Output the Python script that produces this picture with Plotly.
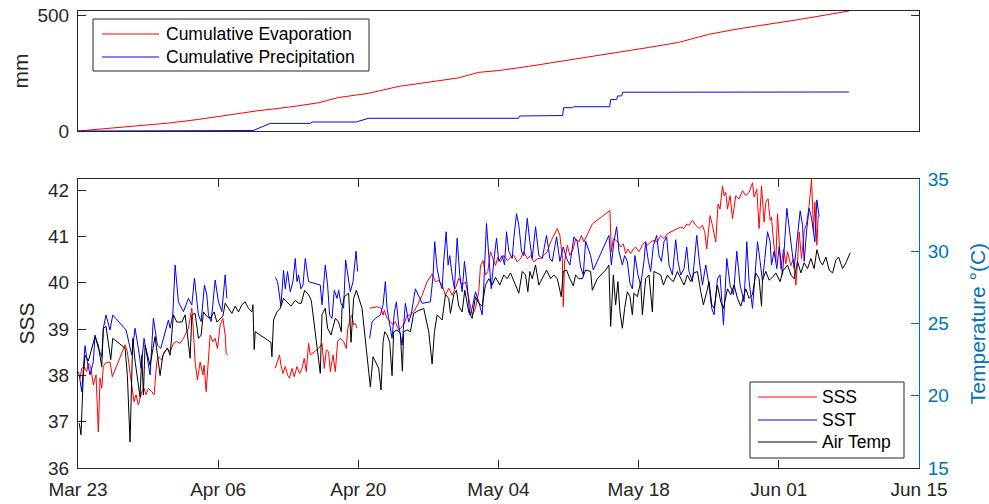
import pandas as pd
import plotly.graph_objects as go

START = pd.Timestamp("2015-03-23")

# ---------------- data (day offsets from Mar 23) ----------------
EVAP_DAY = [0, 3, 6, 9, 12, 15, 18, 21, 24, 26, 29, 32, 35, 38, 40, 42, 45, 48, 51, 54, 57, 60, 63, 66, 69, 72, 75, 77]
EVAP_MM = [0, 11, 20, 34, 50, 70, 88, 103, 122, 145, 163, 193, 210, 230, 254, 262, 280, 300, 322, 342, 362, 384, 419, 443, 462, 483, 505, 520]

PREC_DAY = [0, 12.5, 12.6, 17.5, 19.2, 23.2, 23.4, 27.8, 29.0, 44.0, 44.1, 45.7, 45.8, 48.4, 48.5, 49.4, 49.5,
            53.1, 53.2, 53.8, 53.9, 54.3, 54.4, 68.1, 68.2, 77.0]
PREC_MM = [0, 0, 2, 2, 33, 33, 39, 39, 55, 55, 65, 65, 67, 67, 101, 101, 105, 105, 136, 136, 152, 152, 168, 168, 169, 169]

SSS_DAY = [0.03, 0.2, 0.37, 0.6, 0.87, 1.03, 1.27, 1.53, 1.8, 2.03, 2.2, 2.37, 2.53, 2.7, 3.2, 3.43, 4.7, 4.93, 5.27,
           5.6, 5.8, 6.03, 6.37, 6.6, 6.8, 7.03, 7.37, 7.6, 7.87, 8.03, 8.37, 8.6, 8.93, 9.2, 9.53, 9.87, 10.2, 10.53,
           11.03, 11.37, 11.53, 11.7, 11.93, 12.2, 12.47, 12.6, 12.8, 13.03, 13.2, 13.47, 13.7, 13.93, 14.2, 14.47,
           14.7, 14.8, 14.97, None,
           19.7, 19.93, 20.13, 20.27, 20.47, 20.7, 20.93, 21.13, 21.37, 21.6, 21.87, 22.13, 22.37, 22.6, 22.8, 23.03,
           23.2, 24.03, 24.37, 24.6, 24.8, 25.03, 25.2, 25.47, 25.7, 25.93, 26.2, 26.53, 26.8, 26.93, 27.2, 27.37,
           27.53, 27.7, 27.87, None,
           29.13, 29.37, 29.87, 30.27, 30.47, 30.6, 30.87, 31.2, 31.47, 31.7, 32.03, 32.37, 32.6, 32.87, 33.2, 33.53,
           33.87, 34.37, 34.87, 35.37, 35.7, 36.03, 36.37, 36.7, 37.03, 37.37, 37.7, 38.03, 38.37, 38.7, 39.03, 39.37,
           39.7, 40.03, 40.2, 40.47, 40.7, 40.93, 41.2, 41.47, 41.7, 41.93, 42.2, 42.53, 42.87, 43.2, 43.53, 43.87,
           44.2, 44.53, 44.87, 45.2, 45.53, 45.87, 46.2, 46.53, 46.87, 47.2, 47.53, 47.87, 48.13, 48.37, 48.47, 48.6,
           48.87, 49.13, 49.47, 49.7, 50.03, 50.27, 50.53, 50.7, 51.0, 51.37, 53.13, 53.27, 53.47, 53.7, 53.93, 54.2,
           54.47, 54.7, 54.93, 55.2, 55.47, 55.7, 56.03, 56.37, 56.63, 56.87, 57.2, 57.53, 57.87, 58.2, 58.53, 58.87,
           59.2, 59.53, 59.87, 60.2, 60.53, 60.8, 61.03, 61.37, 61.7, 62.03, 62.37, 62.6, 62.8, 63.13, 63.37, 63.7,
           63.93, 64.13, 64.37, 64.53, 64.7, 64.87, 65.13, 65.37, 65.7, 66.03, 66.37, 66.7, 67.03, 67.37, 67.53, 67.8,
           68.03, 68.27, 68.53, 68.7, 68.93, 69.13, 69.27, 69.47, 69.7, 69.87, 70.03, 70.2, 70.47, 70.7, 70.87, 71.2,
           71.47, 71.7, 71.87, 72.03, 72.27, 72.53, 72.8, 73.03, 73.27, 73.47, 73.6, 73.8, 73.93]
SSS_VAL = [38.08, 37.94, 38.15, 38.19, 38.08, 38.26, 38.19, 37.79, 38.01, 36.78, 37.94, 37.72, 38.19, 38.26, 38.29,
           37.97, 38.66, 38.51, 37.94, 37.43, 37.58, 37.36, 37.65, 37.72, 37.58, 37.72, 37.65, 37.58, 38.29, 38.40,
           38.33, 38.51, 38.58, 38.51, 38.69, 38.73, 38.69, 38.80, 39.02, 39.45, 38.94, 38.29, 37.90, 38.29, 38.01,
           38.22, 37.65, 38.44, 38.87, 38.73, 38.80, 38.58, 39.09, 39.23, 38.87, 38.47, 38.44, None,
           38.15, 38.29, 38.44, 38.22, 38.04, 38.19, 38.01, 37.94, 38.15, 37.97, 38.19, 38.04, 38.15, 38.37, 38.08,
           38.69, 38.44, 38.58, 38.69, 38.15, 38.55, 38.51, 38.08, 38.44, 38.08, 38.73, 38.80, 38.73, 38.58, 38.98,
           39.23, 39.30, 39.09, 39.12, 39.02, None,
           39.45, 39.46, 39.48, 39.45, 39.30, 39.41, 39.23, 39.16, 39.09, 39.16, 38.98, 39.05, 39.12, 39.30, 39.30,
           39.38, 39.50, 39.73, 40.02, 40.19, 40.02, 40.05, 39.95, 39.73, 39.88, 39.73, 39.88, 40.10, 39.95, 40.02,
           39.66, 39.30, 39.45, 39.81, 40.37, 40.48, 40.17, 40.24, 40.67, 40.52, 40.37, 40.55, 40.45, 40.59, 40.48,
           40.55, 40.59, 40.45, 40.52, 40.67, 40.52, 40.59, 40.45, 40.52, 40.52, 40.59, 40.67, 40.88, 41.02, 41.17,
           41.02, 40.59, 39.48, 40.45, 40.81, 40.59, 40.73, 40.95, 40.88, 41.02, 40.88, 40.95, 41.10, 41.27, 41.56,
           40.67, 40.95, 40.92, 40.88, 40.77, 40.84, 40.63, 40.73, 40.63, 40.73, 40.77, 40.67, 40.81, 40.88, 40.81,
           40.88, 40.92, 40.88, 41.02, 40.95, 41.06, 41.10, 41.13, 41.17, 41.20, 41.17, 41.27, 41.24, 41.35, 41.24,
           41.17, 41.24, 41.10, 40.73, 41.45, 41.24, 40.88, 41.70, 41.59, 42.09, 41.88, 41.95, 41.59, 41.88, 41.38,
           41.88, 41.81, 41.99, 41.88, 41.95, 42.16, 41.85, 42.02, 41.17, 42.09, 41.31, 41.74, 41.81, 41.35, 41.42,
           40.88, 40.45, 41.49, 40.88, 40.30, 40.73, 40.41, 40.67, 40.37, 40.52, 39.95, 40.45, 41.10, 40.52, 41.10,
           41.31, 41.67, 42.24, 41.10, 41.74, 40.81, 41.45]

SST_DAY = [0.13, 0.37, 0.7, 0.93, 1.2, 1.53, 1.7, 2.03, 2.37, 2.53, 2.8, 3.2, 3.47, 4.8, 5.37, 5.7, 6.03, 6.3, 6.6, 7.2,
           7.53, 7.93, 8.27, 8.53, 9.03, 9.2, 9.47, 9.7, 10.03, 10.53, 11.03, 11.37, 11.63, 12.03, 12.3, 12.63, 12.87,
           13.03, 13.3, 13.7, 14.03, 14.37, 14.7, 14.87, None,
           19.7, 19.93, 20.27, 20.53, 20.7, 20.93, 21.2, 21.47, 21.7, 21.87, 22.03, 22.27, 22.47, 22.7, 23.03, 24.2,
           24.37, 24.7, 24.93, 25.13, 25.37, 25.6, 25.87, 26.03, 26.27, 26.53, 26.73, 26.93, 27.2, 27.47, 27.77, 27.93,
           None,
           29.13, 29.37, 29.7, 30.2, 30.47, 30.7, 30.87, 31.13, 31.37, 31.6, 31.8, 32.03, 32.37, 32.7, 33.03, 33.27,
           33.7, 34.03, 34.37, 35.2, 35.47, 35.63, 35.87, 36.13, 36.37, 36.53, 36.77, 36.97, 37.13, 37.37, 37.6, 37.87,
           38.13, 38.37, 38.6, 38.87, 39.13, 39.37, 39.7, 40.03, 40.37, 40.53, 40.8, 41.03, 41.27, 41.53, 41.8, 42.03,
           42.37, 42.6, 42.8, 43.03, 43.37, 43.53, 43.8, 44.03, 44.3, 44.53, 44.87, 45.13, 45.37, 45.7, 46.03, 46.37,
           46.8, 47.13, 47.37, 47.8, 48.13, 48.47, 48.8, 49.13, 49.53, 49.87, 50.2, 50.47, 50.7, 51.2, 51.47, 53.03,
           53.27, 53.53, 53.8, 54.03, 54.37, 54.6, 54.87, 55.13, 55.37, 55.63, 55.93, 56.2, 56.53, 56.7, 56.97, 57.2,
           57.47, 57.8, 58.03, 58.27, 58.53, 58.8, 59.03, 59.37, 59.7, 59.93, 60.2, 60.53, 60.8, 61.03, 61.37, 61.8,
           62.03, 62.37, 62.7, 62.97, 63.3, 63.53, 63.87, 64.13, 64.47, 64.8, 65.13, 65.47, 65.8, 66.13, 66.53, 66.8,
           67.03, 67.37, 67.6, 67.87, 68.13, 68.37, 68.6, 68.87, 69.13, 69.27, 69.53, 69.8, 70.03, 70.37, 70.8, 71.03,
           71.27, 71.53, 71.87, 72.13, 72.37, 72.53, 72.8, 73.03, 73.27, 73.47, 73.6, 73.8, 74.03]
SST_VAL = [21.44, 20.28, 23.47, 22.36, 21.44, 22.36, 24.20, 23.28, 22.70, 24.67, 25.59, 24.55, 25.59, 24.55, 22.82,
           24.67, 23.28, 21.90, 23.97, 21.44, 25.36, 23.50, 23.28, 23.97, 25.24, 24.67, 25.59, 29.05, 26.50, 25.82,
           26.74, 26.28, 28.13, 25.59, 25.13, 27.66, 26.97, 25.59, 25.13, 28.01, 26.50, 25.82, 28.36, 26.74, None,
           28.20, 27.90, 26.20, 28.70, 27.40, 28.60, 27.20, 27.90, 29.50, 27.90, 28.36, 27.40, 27.66, 29.50, 27.90,
           27.66, 26.30, 29.05, 27.66, 25.60, 25.36, 27.30, 26.74, 27.30, 26.40, 26.05, 29.40, 28.36, 27.20, 27.90,
           30.00, 28.60, None,
           23.97, 25.10, 25.36, 25.60, 26.30, 27.90, 26.05, 24.90, 23.97, 25.80, 26.50, 24.90, 23.50, 26.40, 25.10,
           25.60, 27.40, 26.90, 26.40, 26.50, 28.36, 30.66, 28.80, 27.90, 27.40, 29.30, 31.35, 29.05, 29.70, 28.36,
           27.40, 30.90, 28.36, 27.20, 29.30, 27.66, 25.60, 26.05, 27.20, 26.50, 25.60, 27.66, 31.93, 29.70, 27.40,
           29.30, 30.90, 29.30, 29.70, 29.05, 31.35, 30.00, 29.50, 30.90, 32.60, 31.80, 30.00, 29.70, 32.28, 30.66,
           29.50, 31.70, 29.70, 29.50, 31.10, 29.50, 29.30, 31.00, 29.30, 30.30, 29.50, 29.05, 31.00, 30.66, 28.90,
           28.36, 30.70, 29.70, 28.70, 31.10, 29.05, 30.66, 31.70, 30.00, 29.05, 29.70, 29.30, 27.80, 27.40, 29.70,
           28.36, 27.66, 29.30, 30.66, 29.30, 28.60, 30.40, 31.10, 29.70, 29.30, 30.66, 31.00, 29.05, 28.36, 30.80,
           29.30, 28.36, 28.80, 30.30, 28.60, 27.90, 31.10, 29.50, 27.66, 29.05, 27.90, 26.05, 25.60, 28.10, 28.36,
           24.90, 29.50, 27.66, 27.00, 30.00, 27.66, 26.50, 30.66, 27.90, 26.05, 28.36, 30.66, 29.30, 27.90, 29.50,
           31.35, 30.66, 29.05, 30.00, 28.80, 30.30, 28.36, 32.97, 31.60, 30.00, 28.80, 31.10, 32.80, 31.80, 29.30,
           31.60, 32.97, 32.28, 31.10, 30.66, 33.55, 32.40]

AIR_DAY = [0.13, 0.3, 0.53, 0.7, 1.03, 1.37, 1.7, 2.03, 2.37, 2.53, 2.8, 3.27, 3.47, 4.7, 4.93, 5.2, 5.47, 5.7, 5.93,
           6.2, 6.37, 6.53, 6.7, 7.2, 7.7, 8.2, 8.47, 8.93, 9.2, 9.53, 9.87, 10.37, 10.7, 11.2, 11.37, 11.7, 12.03,
           12.3, 12.53, 12.87, 13.2, 13.6, 13.87, 14.2, 14.47, 14.7, 15.03, 15.37, 15.7, 16.03, 16.37, 16.7, 17.03,
           17.37, 17.47, 17.6, 17.7, 19.27, 19.37, 19.53, 19.87, 20.2, 20.53, 20.87, 21.27, 21.7, 22.03, 22.3, 22.63,
           23.03, 23.3, 24.2, 24.37, 24.7, 24.93, 25.27, 25.7, 26.03, 26.3, 26.37, 26.6, 27.03, 27.27, 27.53, 27.8,
           28.37, 29.2, 29.47, 30.03, 30.27, 30.47, 30.63, 30.87, 31.13, 31.37, 31.53, 31.87, 32.2, 32.4, 32.53, 32.87,
           33.2, 33.53, 34.03, 34.53, 35.03, 35.37, 35.6, 35.87, 36.37, 36.7, 37.03, 37.2, 37.53, 37.8, 38.03, 38.37,
           38.63, 39.03, 39.37, 39.7, 40.03, 40.37, 40.7, 41.03, 41.37, 41.7, 42.13, 42.53, 42.87, 43.2, 43.7, 44.03,
           44.37, 44.7, 44.93, 45.13, 45.37, 45.7, 46.03, 46.37, 46.8, 47.2, 47.53, 47.87, 48.27, 48.47, 48.8, 49.13,
           49.47, 49.7, 50.03, 50.37, 50.7, 51.2, 51.37, 51.87, 52.2, 52.7, 53.03, 53.2, 53.47, 53.7, 53.93, 54.13,
           54.37, 54.6, 54.87, 55.13, 55.37, 55.53, 55.87, 56.2, 56.37, 56.7, 57.03, 57.37, 57.53, 57.87, 58.2, 58.47,
           58.87, 59.13, 59.47, 59.87, 60.2, 60.53, 60.87, 61.2, 61.53, 61.87, 62.2, 62.47, 62.8, 63.03, 63.3, 63.53,
           63.87, 64.2, 64.47, 64.87, 65.2, 65.53, 65.87, 66.2, 66.7, 67.03, 67.37, 67.7, 68.03, 68.27, 68.37, 68.7,
           69.03, 69.37, 69.7, 70.13, 70.37, 70.87, 71.2, 71.53, 71.87, 72.2, 72.53, 72.87, 73.2, 73.53, 73.8, 74.13,
           74.37, 74.7, 75.03, 75.37, 75.7, 75.97, 76.37, 76.7, 77.13]
AIR_VAL = [18.1, 17.3, 21.4, 22.8, 22.4, 23.3, 24.1, 23.5, 22.0, 24.67, 24.8, 22.5, 23.97, 23.3, 21.4, 16.8, 23.97,
           22.4, 21.4, 19.9, 22.8, 20.05, 23.5, 22.1, 24.1, 21.4, 22.8, 23.3, 22.8, 25.6, 25.1, 25.1, 25.6, 22.6, 25.6,
           25.7, 23.97, 24.2, 25.8, 25.5, 25.36, 25.8, 25.1, 25.36, 25.5, 26.4, 26.05, 25.7, 26.2, 25.8, 26.3, 26.5,
           26.05, 25.8, 26.3, 23.2, 24.43, 23.7, 22.7, 25.24, 25.8, 26.05, 26.74, 26.5, 26.2, 26.6, 26.4, 26.4, 27.3,
           27.0, 26.6, 21.55, 25.6, 26.05, 24.67, 24.2, 25.36, 25.1, 24.43, 26.05, 26.85, 27.1, 23.7, 26.74, 27.3,
           26.05, 20.6, 22.7, 21.9, 20.4, 23.7, 24.43, 24.2, 23.7, 21.4, 24.43, 24.55, 24.3, 21.7, 24.43, 24.55, 24.43,
           25.7, 25.9, 26.05, 24.43, 22.2, 24.43, 25.6, 25.24, 27.0, 26.74, 25.7, 27.0, 27.3, 26.2, 25.8, 27.3, 25.8,
           25.36, 26.85, 26.4, 26.2, 27.66, 28.1, 27.66, 28.2, 27.66, 28.36, 28.1, 28.5, 27.66, 27.1, 28.6, 28.36,
           27.2, 28.6, 28.1, 29.05, 27.66, 28.1, 28.7, 28.1, 28.36, 28.1, 26.85, 28.6, 28.7, 28.1, 27.6, 28.36, 28.1,
           28.1, 28.7, 28.6, 27.3, 28.1, 28.36, 28.7, 29.05, 24.8, 28.36, 26.3, 27.9, 25.8, 24.67, 26.05, 27.2, 26.85,
           25.6, 27.1, 26.85, 27.9, 25.6, 28.1, 28.36, 25.8, 28.6, 28.5, 28.36, 27.66, 28.36, 28.1, 27.9, 28.6, 28.1,
           27.66, 28.36, 27.9, 28.5, 28.6, 27.2, 26.3, 27.2, 27.9, 26.3, 26.05, 27.66, 26.5, 26.05, 27.4, 27.0, 27.66,
           26.74, 26.2, 27.4, 26.74, 27.0, 28.5, 28.1, 26.2, 28.0, 28.6, 28.0, 28.2, 28.5, 27.9, 28.6, 29.05, 28.36,
           28.1, 29.3, 28.5, 29.2, 28.8, 29.5, 28.8, 30.1, 29.3, 29.05, 29.6, 28.7, 28.5, 29.4, 29.6, 28.8, 29.2, 29.9]

TICK_DAYS = [0, 14, 28, 42, 56, 70, 84]
TICK_LABELS = ["Mar 23", "Apr 06", "Apr 20", "May 04", "May 18", "Jun 01", "Jun 15"]

TOP_LEGEND = [("Cumulative Evaporation", "red"), ("Cumulative Precipitation", "blue")]
BOTTOM_LEGEND = [("SSS", "red"), ("SST", "blue"), ("Air Temp", "black")]


def dates(days):
    return [None if d is None else START + pd.Timedelta(days=d) for d in days]


AX = "#262626"
BLUEAX = "#0072BD"
FONT = "Liberation Sans, Arial, sans-serif"

fig = go.Figure()
fig.add_trace(go.Scatter(x=dates(EVAP_DAY), y=EVAP_MM, mode="lines", name=TOP_LEGEND[0][0],
                         line=dict(color=TOP_LEGEND[0][1], width=1), xaxis="x", yaxis="y"))
fig.add_trace(go.Scatter(x=dates(PREC_DAY), y=PREC_MM, mode="lines", name=TOP_LEGEND[1][0],
                         line=dict(color=TOP_LEGEND[1][1], width=1), xaxis="x", yaxis="y"))
fig.add_trace(go.Scatter(x=dates(SSS_DAY), y=SSS_VAL, mode="lines", name=BOTTOM_LEGEND[0][0], connectgaps=False,
                         line=dict(color=BOTTOM_LEGEND[0][1], width=1), xaxis="x2", yaxis="y2"))
fig.add_trace(go.Scatter(x=dates(SST_DAY), y=SST_VAL, mode="lines", name=BOTTOM_LEGEND[1][0], connectgaps=False,
                         line=dict(color=BOTTOM_LEGEND[1][1], width=1), xaxis="x2", yaxis="y3"))
fig.add_trace(go.Scatter(x=dates(AIR_DAY), y=AIR_VAL, mode="lines", name=BOTTOM_LEGEND[2][0],
                         line=dict(color=BOTTOM_LEGEND[2][1], width=1), xaxis="x2", yaxis="y3"))

# ---- legends drawn as boxed keys (paper coordinates) ----
W, H, L, T, B = 989, 504, 78, 11, 36
PW, PH = W - L - 70, H - T - B


def px(xp):
    return (xp - L) / PW


def py(yp):
    return (H - B - yp) / PH


def add_legend(entries, box, line_x, text_x, ys):
    fig.add_shape(type="rect", xref="paper", yref="paper", x0=px(box[0]), x1=px(box[1]), y0=py(box[3]),
                  y1=py(box[2]), line=dict(color=AX, width=1), fillcolor="white", layer="above")
    for (name, color), yy in zip(entries, ys):
        fig.add_shape(type="line", xref="paper", yref="paper", x0=px(line_x[0]), x1=px(line_x[1]),
                      y0=py(yy), y1=py(yy), line=dict(color=color, width=1), layer="above")
        fig.add_annotation(xref="paper", yref="paper", x=px(text_x), y=py(yy), text=name, showarrow=False,
                           xanchor="left", yanchor="middle", borderpad=0,
                           font=dict(family=FONT, size=17.5, color="black"))


add_legend(TOP_LEGEND, (93, 369, 19, 71), (102, 159), 165, [34, 57])
add_legend(BOTTOM_LEGEND, (750, 904, 382, 458), (758, 817), 821, [397, 420, 442])

xr = [START, START + pd.Timedelta(days=84)]
tickvals = dates(TICK_DAYS)
tickfont = dict(family=FONT, size=19, color=AX)
titlefont = dict(family=FONT, size=21, color=AX)

common_x = dict(range=xr, showline=True, linecolor=AX, linewidth=1, showgrid=False, zeroline=False,
                tickvals=tickvals, ticktext=TICK_LABELS, automargin=False)

fig.update_layout(
    width=W, height=H,
    margin=dict(l=L, r=70, t=T, b=B),
    showlegend=False,
    paper_bgcolor="white", plot_bgcolor="white",
    font=dict(family=FONT, color=AX),
    xaxis=dict(common_x, domain=[0, 1], anchor="y", mirror=True, ticks="", showticklabels=False),
    yaxis=dict(domain=[py(131), 1], anchor="x", range=[0, 520], tickvals=[0, 500], ticks="inside", ticklen=8,
               tickcolor=AX, showline=True, linecolor=AX, mirror="ticks", showgrid=False, zeroline=False,
               automargin=False, ticklabelstandoff=4,
               tickfont=tickfont, title=dict(text="mm", font=titlefont, standoff=3)),
    xaxis2=dict(common_x, domain=[0, 1], anchor="y2", mirror="ticks", ticks="inside", ticklen=8, tickcolor=AX,
                tickfont=tickfont, ticklabelstandoff=4),
    yaxis2=dict(domain=[0, py(179)], anchor="x2", range=[36, 42.24], dtick=1, tick0=36, ticks="inside",
                ticklen=8, tickcolor=AX, showline=True, linecolor=AX, showgrid=False, zeroline=False,
                automargin=False, ticklabelstandoff=4,
                tickfont=tickfont, title=dict(text="SSS", font=titlefont, standoff=7)),
    yaxis3=dict(overlaying="y2", anchor="x2", side="right", range=[15, 35], dtick=5, tick0=15,
                ticks="inside", ticklen=8, tickcolor=BLUEAX, showline=True, linecolor=BLUEAX, showgrid=False,
                zeroline=False, automargin=False, ticklabelstandoff=4,
                tickfont=dict(family=FONT, size=19, color=BLUEAX),
                title=dict(text="Temperature °(C)", font=dict(family=FONT, size=21, color=BLUEAX), standoff=25)),
)

fig.write_html("out.html", config={"displayModeBar": False},
               post_script="document.body.style.margin='0';")
